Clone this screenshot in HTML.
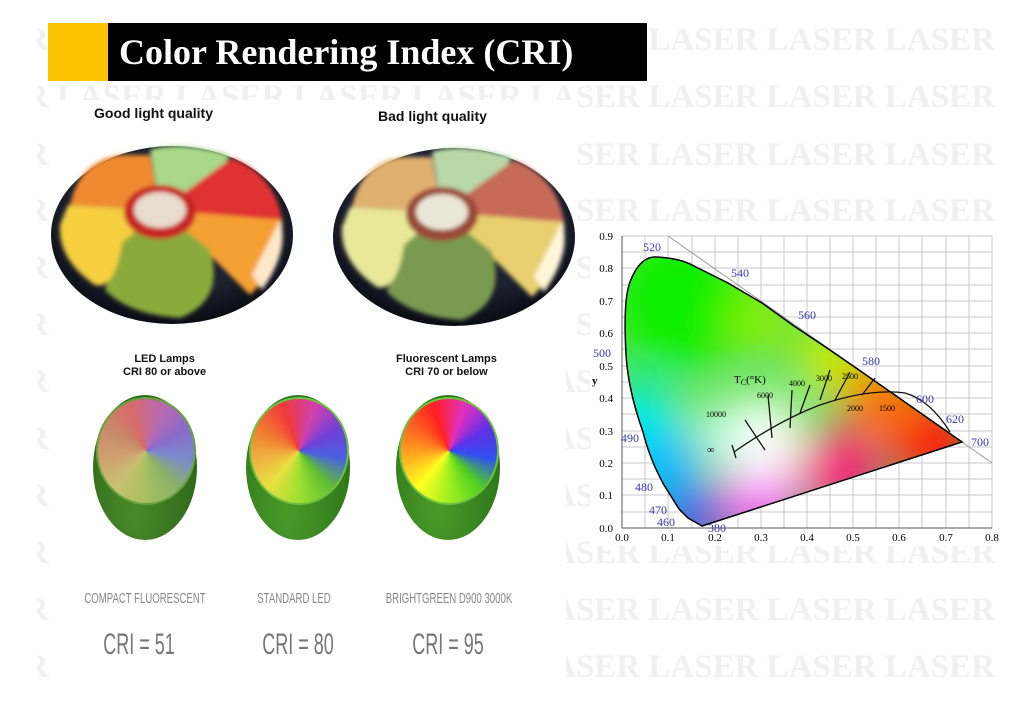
<!DOCTYPE html>
<html><head><meta charset="utf-8"><style>
html,body{margin:0;padding:0;background:#fff;}
body{width:1022px;height:701px;position:relative;overflow:hidden;font-family:"Liberation Sans",sans-serif;}
#wmc{position:absolute;left:37px;top:0;width:985px;height:701px;overflow:hidden;}
.wm{position:absolute;right:27px;white-space:nowrap;font-family:"Liberation Serif",serif;font-weight:bold;font-size:33px;color:#f0f0f0;line-height:36px;}
.t{position:absolute;white-space:nowrap;}
</style></head><body>
<div id="wmc">
<div class="wm" style="top:22px">LASER LASER LASER LASER LASER LASER LASER LASER LASER</div>
<div class="wm" style="top:79px">LASER LASER LASER LASER LASER LASER LASER LASER LASER</div>
<div class="wm" style="top:137px">LASER LASER LASER LASER LASER LASER LASER LASER LASER</div>
<div class="wm" style="top:193px">LASER LASER LASER LASER LASER LASER LASER LASER LASER</div>
<div class="wm" style="top:250px">LASER LASER LASER LASER LASER LASER LASER LASER LASER</div>
<div class="wm" style="top:307px">LASER LASER LASER LASER LASER LASER LASER LASER LASER</div>
<div class="wm" style="top:364px">LASER LASER LASER LASER LASER LASER LASER LASER LASER</div>
<div class="wm" style="top:421px">LASER LASER LASER LASER LASER LASER LASER LASER LASER</div>
<div class="wm" style="top:478px">LASER LASER LASER LASER LASER LASER LASER LASER LASER</div>
<div class="wm" style="top:535px">LASER LASER LASER LASER LASER LASER LASER LASER LASER</div>
<div class="wm" style="top:592px">LASER LASER LASER LASER LASER LASER LASER LASER LASER</div>
<div class="wm" style="top:649px">LASER LASER LASER LASER LASER LASER LASER LASER LASER</div>
</div>

<div style="position:absolute;left:56px;top:100px;width:522px;height:240px;background:#fff"></div>
<div style="position:absolute;left:56px;top:340px;width:510px;height:350px;background:#fff"></div>
<div style="position:absolute;left:590px;top:226px;width:410px;height:320px;background:#fff"></div>

<div style="position:absolute;left:48px;top:23px;width:60px;height:58px;background:#fdc300"></div>
<div style="position:absolute;left:108px;top:23px;width:539px;height:58px;background:#000"></div>
<div class="t" style="left:119px;top:30px;color:#fff;font-family:'Liberation Serif',serif;font-weight:bold;font-size:36px;line-height:44px;">Color Rendering Index (CRI)</div>

<div class="t" style="left:94px;top:105px;font-weight:bold;font-size:14px;color:#111">Good light quality</div>
<div class="t" style="left:378px;top:108px;font-weight:bold;font-size:14px;color:#111">Bad light quality</div>

<svg style="position:absolute;left:0;top:0" width="1022" height="701">
<defs>
<filter id="b2"><feGaussianBlur stdDeviation="2"/></filter>
<filter id="b20"><feGaussianBlur stdDeviation="22"/></filter>
<radialGradient id="rim" cx="50%" cy="40%" r="60%"><stop offset="0.7" stop-color="#1d2230"/><stop offset="1" stop-color="#0a0c14"/></radialGradient>
</defs>
<g>
<ellipse cx="172" cy="235" rx="121" ry="89" fill="url(#rim)"/>
<g filter="url(#b2)">
<path d="M160,210 L70,205 Q80,160 120,155 L150,155 Z" fill="#f08a30"/>
<path d="M160,210 L150,150 Q180,140 230,155 L205,200 Z" fill="#a8d888"/>
<path d="M160,210 L232,158 Q275,175 282,220 L210,225 Z" fill="#e03030"/>
<path d="M160,210 L282,220 Q285,260 250,295 L205,250 Z" fill="#f5a030"/>
<path d="M252,275 L280,220 Q290,250 262,290 Z" fill="#ffe8c8"/>
<path d="M160,210 L210,250 Q225,300 180,318 Q130,315 105,290 L120,240 Z" fill="#8aab3a"/>
<path d="M160,210 L122,243 Q115,290 95,285 Q58,260 60,225 L68,205 Z" fill="#f5cf40"/>
<ellipse cx="160" cy="212" rx="36" ry="27" fill="#c82828"/>
<ellipse cx="160" cy="210" rx="26" ry="18" fill="#e8dccc"/>
</g>
</g>
<g transform="translate(282,2)">
<ellipse cx="172" cy="235" rx="121" ry="89" fill="url(#rim)"/>
<g filter="url(#b2)">
<path d="M160,210 L70,205 Q80,160 120,155 L150,155 Z" fill="#e0b070"/>
<path d="M160,210 L150,150 Q180,140 230,155 L205,200 Z" fill="#b8d8a8"/>
<path d="M160,210 L232,158 Q275,175 282,220 L210,225 Z" fill="#c86a58"/>
<path d="M160,210 L282,220 Q285,260 250,295 L205,250 Z" fill="#e8d070"/>
<path d="M252,275 L280,220 Q290,250 262,290 Z" fill="#fff5d8"/>
<path d="M160,210 L210,250 Q225,300 180,318 Q130,315 105,290 L120,240 Z" fill="#7a9a50"/>
<path d="M160,210 L122,243 Q115,290 95,285 Q58,260 60,225 L68,205 Z" fill="#e8e898"/>
<ellipse cx="160" cy="212" rx="36" ry="27" fill="#9a4a38"/>
<ellipse cx="160" cy="210" rx="26" ry="18" fill="#ece6d6"/>
</g>
</g>

<g stroke="#c8c8c8" stroke-width="1">
<path d="M622,236V528M645,236V528M668,236V528M692,236V528M715,236V528M738,236V528M761,236V528M784,236V528M807,236V528M830,236V528M853,236V528M876,236V528M899,236V528M922,236V528M946,236V528M969,236V528M992,236V528"/>
<path d="M622,236H992M622,252H992M622,268H992M622,285H992M622,301H992M622,317H992M622,333H992M622,349H992M622,366H992M622,382H992M622,398H992M622,414H992M622,431H992M622,447H992M622,463H992M622,479H992M622,495H992M622,512H992"/>
<path d="M668,236L992,463" stroke="#999"/>
</g>
<path d="M622,236V528H992" stroke="#555" fill="none"/>
<clipPath id="loc"><path id="lp" d="M702,526 L688,518 L679,509 L664,485 Q650,460 643,432 Q628,390 626,354 Q623,300 630,282 Q640,256 656,257 Q680,258 694,266 L728,283 L762,303 L794,326 L827,348 L859,370 L912,407 L942,428 L962,442 Z"/></clipPath>
<g clip-path="url(#loc)">
<rect x="600" y="230" width="400" height="320" fill="#60e050"/>
<g filter="url(#b20)">
<circle cx="680" cy="300" r="70" fill="#10f000"/>
<circle cx="640" cy="430" r="45" fill="#00f0f0"/>
<circle cx="665" cy="470" r="40" fill="#00b8ff"/>
<circle cx="690" cy="520" r="30" fill="#3030ff"/>
<circle cx="760" cy="500" r="40" fill="#ff40ff"/>
<circle cx="840" cy="470" r="40" fill="#ff1080"/>
<circle cx="930" cy="440" r="45" fill="#ff1010"/>
<circle cx="880" cy="400" r="40" fill="#ff7000"/>
<circle cx="830" cy="360" r="30" fill="#e0f000"/>
<circle cx="760" cy="320" r="30" fill="#90f000"/>
<circle cx="760" cy="440" r="45" fill="#ffffff"/>
<circle cx="720" cy="430" r="25" fill="#c8fff0"/>
</g>
</g>
<use href="#lp" fill="none" stroke="#000" stroke-width="1.5"/>
<path d="M734,452 Q780,420 820,405 Q870,388 905,393 Q930,400 950,432" fill="none" stroke="#111" stroke-width="1.3"/>
<g stroke="#111" stroke-width="1.3">
<path d="M732,445L736,458M745,420L765,450M768,395L772,438M792,390L790,428M810,385L800,413M830,370L820,400M850,372L835,400M875,378L862,395"/>
</g>
<g font-family="'Liberation Serif',serif" font-size="11" fill="#000">
<text x="613" y="240" text-anchor="end">0.9</text><text x="613" y="272" text-anchor="end">0.8</text><text x="613" y="305" text-anchor="end">0.7</text><text x="613" y="337" text-anchor="end">0.6</text><text x="613" y="370" text-anchor="end">0.5</text><text x="613" y="402" text-anchor="end">0.4</text><text x="613" y="435" text-anchor="end">0.3</text><text x="613" y="467" text-anchor="end">0.2</text><text x="613" y="499" text-anchor="end">0.1</text><text x="613" y="532" text-anchor="end">0.0</text>
<text x="622" y="541" text-anchor="middle">0.0</text><text x="668" y="541" text-anchor="middle">0.1</text><text x="715" y="541" text-anchor="middle">0.2</text><text x="761" y="541" text-anchor="middle">0.3</text><text x="807" y="541" text-anchor="middle">0.4</text><text x="853" y="541" text-anchor="middle">0.5</text><text x="899" y="541" text-anchor="middle">0.6</text><text x="946" y="541" text-anchor="middle">0.7</text><text x="992" y="541" text-anchor="middle">0.8</text>
<text x="592" y="384" font-weight="bold">y</text>
<text x="734" y="383" font-size="11">T<tspan font-size="8" dy="2">C</tspan><tspan dy="-2">(°K)</tspan></text>
<text x="706" y="417" font-size="8">10000</text><text x="757" y="398" font-size="8">6000</text><text x="789" y="386" font-size="8">4000</text><text x="816" y="381" font-size="8">3000</text><text x="842" y="379" font-size="8">2500</text><text x="847" y="411" font-size="8">2000</text><text x="879" y="411" font-size="8">1500</text>
<text x="707" y="453" font-size="10">∞</text>
</g>
<g font-family="'Liberation Serif',serif" font-size="12" fill="#3a3aa8">
<text x="643" y="251">520</text><text x="731" y="277">540</text><text x="798" y="319">560</text><text x="862" y="365">580</text><text x="916" y="403">600</text><text x="946" y="423">620</text><text x="971" y="446">700</text><text x="593" y="357">500</text><text x="621" y="442">490</text><text x="635" y="491">480</text><text x="649" y="514">470</text><text x="657" y="526">460</text><text x="708" y="532">380</text>
</g>
</svg>

<div class="t" style="left:123px;top:353px;font-weight:bold;font-size:11px;text-align:center;line-height:13px;color:#111">LED Lamps<br>CRI 80 or above</div>
<div class="t" style="left:396px;top:353px;font-weight:bold;font-size:11px;text-align:center;line-height:13px;color:#111">Fluorescent Lamps<br>CRI 70 or below</div>

<div style="position:absolute;left:93px;top:395px;width:104px;height:145px;border-radius:50%;background:radial-gradient(ellipse at 40% 80%,#4a8a2a,#2f6a1a 70%,#1d4a10)"></div>
<div style="position:absolute;left:96px;top:397px;width:96px;height:104px;border-radius:50%;background:conic-gradient(from -20deg,#d86a6a,#b86ab0,#8a6ac8,#7a8ad0,#8ab068,#a8c060,#c8c070,#d0a070,#c88a6a,#d86a6a);border:2px solid #6aa040"></div>
<div style="position:absolute;left:246px;top:395px;width:104px;height:145px;border-radius:50%;background:radial-gradient(ellipse at 40% 80%,#4a9a2a,#2f7a1a 70%,#1d5a10)"></div>
<div style="position:absolute;left:249px;top:397px;width:96px;height:104px;border-radius:50%;background:conic-gradient(from -20deg,#f03a3a,#d040b0,#7040d8,#4a60e0,#60c030,#a0e030,#e8e040,#f0b040,#f07a30,#f03a3a);border:2px solid #70c040"></div>
<div style="position:absolute;left:396px;top:395px;width:104px;height:145px;border-radius:50%;background:radial-gradient(ellipse at 40% 80%,#4a9a2a,#2f7a1a 70%,#1d5a10)"></div>
<div style="position:absolute;left:399px;top:397px;width:96px;height:104px;border-radius:50%;background:conic-gradient(from -20deg,#ff2020,#e030c0,#6030e8,#3050f0,#50d020,#a0f020,#ffff20,#ffb020,#ff6a20,#ff2020);border:2px solid #70c040"></div>

<div class="t" style="left:145px;top:590px;transform:translateX(-50%) scaleX(0.64);font-size:15px;color:#888">COMPACT FLUORESCENT</div>
<div class="t" style="left:294px;top:590px;transform:translateX(-50%) scaleX(0.64);font-size:15px;color:#888">STANDARD LED</div>
<div class="t" style="left:449px;top:590px;transform:translateX(-50%) scaleX(0.64);font-size:15px;color:#888">BRIGHTGREEN D900 3000K</div>
<div class="t" style="left:139px;top:628px;transform:translateX(-50%) scaleX(0.6);font-size:30px;color:#777">CRI = 51</div>
<div class="t" style="left:298px;top:628px;transform:translateX(-50%) scaleX(0.6);font-size:30px;color:#777">CRI = 80</div>
<div class="t" style="left:448px;top:628px;transform:translateX(-50%) scaleX(0.6);font-size:30px;color:#777">CRI = 95</div>
</body></html>
